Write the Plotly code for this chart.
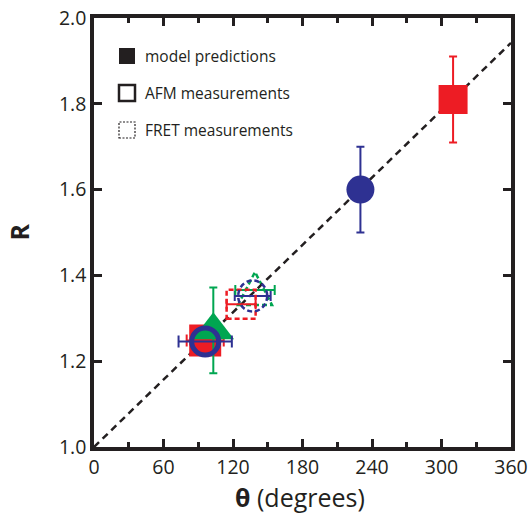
import plotly.graph_objects as go

# ---------------- data ----------------
line_theta = [0, 360]
line_R = [1.0, 1.942]

model_red_theta = [96, 310]
model_red_R = [1.248, 1.81]
model_red_dtheta = [16, 0]
model_red_dR = [0, 0.10]

model_blue_theta = [230]
model_blue_R = [1.60]
model_blue_dR = [0.10]

model_green_theta = [103]
model_green_R = [1.272]
model_green_dR = [0.10]

afm_blue_theta = [96]
afm_blue_R = [1.246]
afm_blue_dtheta = [23]

fret_red_theta = [127]
fret_red_R = [1.333]
fret_red_dtheta = [12.5]

fret_blue_theta = [137]
fret_blue_R = [1.352]
fret_blue_dtheta = [15.5]

fret_green_theta = [139]
fret_green_R = [1.366]
fret_green_dtheta = [17]

x_ticks = [0, 60, 120, 180, 240, 300, 360]
y_ticks = [1.0, 1.2, 1.4, 1.6, 1.8, 2.0]
legend_labels = ["model predictions", "AFM measurements", "FRET measurements"]

# ---------------- style ----------------
RED = "#ed1c24"
BLUE = "#2e3192"
GREEN = "#00a651"
INK = "#231f20"
FONT = "Open Sans"

W, H = 528, 513
ML, MR, MT, MB = 94, 17, 18, 66
PW, PH = W - ML - MR, H - MT - MB


def px_to_paper(px, py):
    return (px - ML) / PW, (H - MB - py) / PH


fig = go.Figure()

# diagonal model line
fig.add_trace(go.Scatter(x=line_theta, y=line_R, mode="lines",
                         line=dict(color=INK, width=2.5, dash="7px,5px"),
                         hoverinfo="skip", showlegend=False))

# FRET error bars (outlines drawn as dashed shapes)
for th, r, dth, col in [(fret_red_theta, fret_red_R, fret_red_dtheta, RED),
                        (fret_blue_theta, fret_blue_R, fret_blue_dtheta, BLUE),
                        (fret_green_theta, fret_green_R, fret_green_dtheta, GREEN)]:
    fig.add_trace(go.Scatter(x=th, y=r, mode="markers",
                             marker=dict(size=2, color="rgba(0,0,0,0)"),
                             error_x=dict(type="data", array=dth, color=col,
                                          thickness=2, width=5),
                             showlegend=False))

# model: red squares
fig.add_trace(go.Scatter(x=model_red_theta, y=model_red_R, mode="markers",
                         marker=dict(symbol="square", size=[32, 29], color=RED,
                                     opacity=1, line=dict(width=0)),
                         error_x=dict(type="data", array=model_red_dtheta, color=RED,
                                      thickness=2, width=6),
                         error_y=dict(type="data", array=model_red_dR, color=RED,
                                      thickness=2, width=4),
                         showlegend=False))

# model: green triangle
fig.add_trace(go.Scatter(x=model_green_theta, y=model_green_R, mode="markers",
                         marker=dict(symbol="triangle-up", size=36, color=GREEN,
                                     opacity=1, line=dict(width=0)),
                         error_y=dict(type="data", array=model_green_dR, color=GREEN,
                                      thickness=2, width=4),
                         showlegend=False))

# AFM: blue open circle
fig.add_trace(go.Scatter(x=afm_blue_theta, y=afm_blue_R, mode="markers",
                         marker=dict(symbol="circle-open", size=27, color=BLUE,
                                     opacity=1, line=dict(width=5, color=BLUE)),
                         error_x=dict(type="data", array=afm_blue_dtheta, color=BLUE,
                                      thickness=2, width=6),
                         showlegend=False))

# model: blue filled circle
fig.add_trace(go.Scatter(x=model_blue_theta, y=model_blue_R, mode="markers",
                         marker=dict(symbol="circle", size=28, color=BLUE,
                                     opacity=1, line=dict(width=0)),
                         error_y=dict(type="data", array=model_blue_dR, color=BLUE,
                                      thickness=2, width=4),
                         showlegend=False))

shapes = []
# FRET dashed outlines anchored at data points
fret_dash = "5px,3px"
shapes.append(dict(type="rect", xref="x", yref="y", xsizemode="pixel", ysizemode="pixel",
                   xanchor=fret_red_theta[0], yanchor=fret_red_R[0],
                   x0=-14.5, x1=14.5, y0=-14.5, y1=14.5,
                   line=dict(color=RED, width=2.5, dash=fret_dash), layer="above"))
shapes.append(dict(type="circle", xref="x", yref="y", xsizemode="pixel", ysizemode="pixel",
                   xanchor=fret_blue_theta[0], yanchor=fret_blue_R[0],
                   x0=-14.5, x1=14.5, y0=-15.5, y1=15.5,
                   line=dict(color=BLUE, width=2.5, dash=fret_dash), layer="above"))
shapes.append(dict(type="path", xref="x", yref="y", xsizemode="pixel", ysizemode="pixel",
                   xanchor=fret_green_theta[0], yanchor=fret_green_R[0],
                   path="M -17,-15 L 17,-15 L 0,18 Z",
                   line=dict(color=GREEN, width=2.5, dash=fret_dash), layer="below"))

# legend icons
icon_rows = [56, 93, 130]
icon_x = 127
legend_styles = [
    dict(fillcolor=INK, line=dict(color=INK, width=0)),
    dict(fillcolor="rgba(0,0,0,0)", line=dict(color=INK, width=2.5)),
    dict(fillcolor="rgba(0,0,0,0)", line=dict(color=INK, width=1.2, dash="2px,1.5px")),
]
annotations = []
for row, lab, st in zip(icon_rows, legend_labels, legend_styles):
    ax, ay = px_to_paper(icon_x, row)
    s = dict(type="rect", xref="paper", yref="paper", xsizemode="pixel", ysizemode="pixel",
             xanchor=ax, yanchor=ay, x0=-8, x1=8, y0=-8, y1=8, layer="above")
    s.update(st)
    shapes.append(s)
    tx, ty = px_to_paper(143, row)
    annotations.append(dict(x=tx, y=ty, xref="paper", yref="paper", text=lab,
                            showarrow=False, xanchor="left", yanchor="middle",
                            font=dict(family=FONT, size=15.5, color=INK)))

# axis titles
annotations.append(dict(x=0.494, y=0, xref="paper", yref="paper",
                        text="<b>θ</b> (degrees)", showarrow=False,
                        xanchor="center", yanchor="middle", yshift=-50,
                        font=dict(family=FONT, size=25, color=INK)))
annotations.append(dict(x=0, y=0.5, xref="paper", yref="paper",
                        text="<b>R</b>", showarrow=False, textangle=-90,
                        xanchor="center", yanchor="middle", xshift=-76,
                        font=dict(family=FONT, size=25, color=INK)))

axis_common = dict(showline=True, linecolor=INK, linewidth=3.5, mirror="allticks",
                   ticks="inside", ticklen=8, tickwidth=2.5, tickcolor=INK,
                   showgrid=False, zeroline=False, automargin=False,
                   tickfont=dict(family=FONT, size=19.5, color=INK))

fig.update_layout(
    width=W, height=H,
    margin=dict(l=ML, r=MR, t=MT, b=MB, pad=0, autoexpand=False),
    plot_bgcolor="white", paper_bgcolor="white",
    showlegend=False,
    xaxis=dict(range=[0, 360], tickvals=x_ticks, ticktext=[str(v) for v in x_ticks],
               minor=dict(dtick=30, ticks="inside", ticklen=5, tickwidth=2.5,
                          tickcolor=INK, showgrid=False),
               **axis_common),
    yaxis=dict(range=[1.0, 2.0], tickvals=y_ticks, ticktext=[f"{v:.1f}" for v in y_ticks],
               **axis_common),
    shapes=shapes,
    annotations=annotations,
)

fig.write_html("out.html",
               config={"displayModeBar": False},
               post_script="document.body.style.margin='0';"
                           "document.body.style.overflow='hidden';")
